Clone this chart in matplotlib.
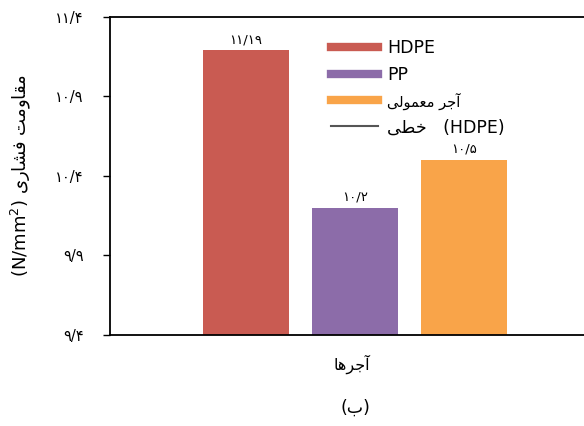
import matplotlib
matplotlib.use("Agg")
import matplotlib.pyplot as plt
from matplotlib.lines import Line2D

plt.rcParams['font.family'] = ['DejaVu Sans']

# Arabic letters are written in presentation forms, in visual (left-to-right) order,
# because matplotlib does no shaping or bidi reordering of its own
MOQAVEMAT = "\uFE96\uFEE3\uFEED\uFE8E\uFED8\uFEE3"   # مقاومت
FESHARI = "\uFEEF\uFEAD\uFE8E\uFEB8\uFED3"           # فشاری
AJORHA = "\uFE8E\uFEEB\uFEAE\uFE9F\uFE81"            # آجرها
AJOR = "\uFEAE\uFE9F\uFE81"                          # آجر
MAMOOLI = "\uFEF0\uFEDF\uFEEE\uFEE4\uFECC\uFEE3"     # معمولی
KHATTI = "\uFEF0\uFEC4\uFEA7"                        # خطی
BE = "\uFE8F"                                        # ب

# data
categories = ["HDPE", "PP", MAMOOLI + " " + AJOR]
strength = [11.19, 10.2, 10.5]
colors = ["#C95B52", "#8C6CA9", "#F9A449"]
y_ticks = [9.4, 9.9, 10.4, 10.9, 11.4]
line_label = KHATTI + "   (HDPE)"


def fa_num(value, fmt="{:g}"):
    """Format a number with Persian digits and '/' as decimal mark."""
    s = fmt.format(value)
    return s.translate(str.maketrans("0123456789.", "۰۱۲۳۴۵۶۷۸۹/"))


fig = plt.figure(figsize=(5.84, 4.26), dpi=100)
ax = fig.add_axes([0.188, 0.214, 0.83, 0.746])

x = list(range(len(categories)))
bars = ax.bar(x, strength, width=0.79, color=colors, bottom=0)

ax.set_ylim(9.4, 11.4)
ax.set_xlim(-1.25, 3.2)
ax.set_yticks(y_ticks)
ax.set_yticklabels([fa_num(t, "{:.1f}") for t in y_ticks], fontsize=10.5)
ax.set_xticks([])
ax.tick_params(axis='y', direction='out', length=5, width=1, pad=14)

ax.bar_label(bars, labels=[fa_num(v) for v in strength], padding=3, fontsize=9.5)

for side in ['top', 'left', 'bottom']:
    ax.spines[side].set_linewidth(1.3)
ax.spines['right'].set_visible(False)

ax.set_ylabel("(N/mm$^2$) " + FESHARI + " " + MOQAVEMAT, fontsize=13, labelpad=16)
ax.set_xlabel(AJORHA, fontsize=11.5, labelpad=14)
fig.text(0.608, 0.042, "(" + BE + ")", ha='center', va='center', fontsize=12.5)

handles = [Line2D([0], [0], color=c, lw=6) for c in colors]
handles.append(Line2D([0], [0], color="#555555", lw=1.5))
leg = ax.legend(handles, categories + [line_label], loc='upper left',
                bbox_to_anchor=(0.425, 0.98), frameon=False, fontsize=12.5,
                handlelength=2.7, handletextpad=0.5, labelspacing=0.5)
leg.get_texts()[2].set_fontsize(10.5)

fig.savefig("out.png", dpi=100)
